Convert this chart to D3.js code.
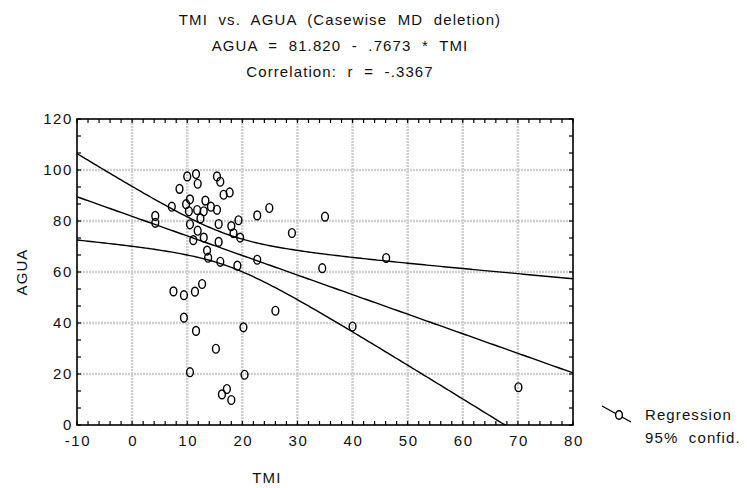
<!DOCTYPE html>
<html>
<head>
<meta charset="utf-8">
<script src="https://cdn.jsdelivr.net/npm/d3@7"></script>
<style>
  body { margin: 0; background: #fff; }
  text { font-family: "Liberation Sans", Arial, sans-serif; fill: #111; font-size: 15px; letter-spacing: 1.1px; }
</style>
</head>
<body>
<div id="chart"></div>
<script>
// values
let tmi = [4.2, 4.2, 7.2, 8.6, 10.0, 11.6, 11.9, 10.5, 9.8, 10.3, 11.8, 12.4, 13.0, 13.3, 14.3, 15.4, 15.4, 16.0, 16.6, 17.7,
  10.5, 11.9, 11.1, 13.0, 13.6, 13.8, 15.7, 15.7, 16.0, 18.0, 18.4, 19.3, 19.6, 19.1, 22.7, 24.9, 22.7, 29.0, 35.0, 34.5,
  7.5, 9.4, 11.4, 12.7, 9.4, 11.6, 20.2, 15.2, 10.5, 20.4, 17.2, 16.3, 18.0, 26.0, 40.0, 46.1, 70.1];
let agua = [82.0, 79.3, 85.6, 92.6, 97.5, 98.4, 94.6, 88.5, 86.6, 83.8, 84.3, 81.0, 83.8, 88.0, 85.6, 84.4, 97.5, 95.4, 90.3, 91.2,
  78.7, 76.2, 72.5, 73.5, 68.4, 65.6, 78.8, 71.8, 64.0, 78.0, 75.2, 80.3, 73.5, 62.5, 82.2, 85.1, 64.8, 75.3, 81.7, 61.5,
  52.4, 50.9, 52.3, 55.3, 42.1, 36.9, 38.3, 29.9, 20.7, 19.7, 14.1, 12.0, 9.8, 44.8, 38.6, 65.5, 14.8];

// from the chart title
let intercept = 81.820;
let slope = -0.7673;
let r = -0.3367;

let xTicks = [-10, 0, 10, 20, 30, 40, 50, 60, 70, 80];
let yTicks = [0, 20, 40, 60, 80, 100, 120];
let titleLines = ['TMI  vs.  AGUA  (Casewise  MD  deletion)', 'AGUA  =  81.820  -  .7673  *  TMI', 'Correlation:  r  =  -.3367'];
let legendLabels = ['Regression', '95%  confid.'];

let width = 747, height = 488;
let margin = {top: 119, right: 174, bottom: 63, left: 77};
let plotW = width - margin.left - margin.right;
let plotH = height - margin.top - margin.bottom;

let svg = d3.select('#chart').append('svg')
  .attr('width', width)
  .attr('height', height);

let x = d3.scaleLinear().domain([-10, 80]).range([margin.left, margin.left + plotW]);
let y = d3.scaleLinear().domain([0, 120]).range([margin.top + plotH, margin.top]);

// titles
svg.selectAll('.title')
  .data(titleLines)
  .enter().append('text')
  .attr('class', 'title')
  .attr('x', 340)
  .attr('y', (d, i) => 25 + i * 26)
  .attr('text-anchor', 'middle')
  .style('white-space', 'pre')
  .text(d => d);

// grid
let grid = svg.append('g')
  .attr('stroke', '#cfcfcf')
  .attr('stroke-width', 2.5)
  .attr('stroke-dasharray', '2,1');
grid.selectAll('.vg')
  .data(xTicks.slice(1, -1))
  .enter().append('line')
  .attr('x1', d => x(d)).attr('x2', d => x(d))
  .attr('y1', y(0)).attr('y2', y(120));
grid.selectAll('.hg')
  .data(yTicks.slice(1, -1))
  .enter().append('line')
  .attr('x1', x(-10)).attr('x2', x(80))
  .attr('y1', d => y(d)).attr('y2', d => y(d));

// minor ticks, inward on all four sides
let xMinor = d3.range(-10, 80.01, 2);
let yMinor = d3.range(0, 120.01, 20 / 3);
let ticks = svg.append('g').attr('stroke', '#000').attr('stroke-width', 1.2);
ticks.selectAll('.xb').data(xMinor).enter().append('line')
  .attr('x1', d => x(d)).attr('x2', d => x(d))
  .attr('y1', y(0)).attr('y2', y(0) - 4);
ticks.selectAll('.xt').data(xMinor).enter().append('line')
  .attr('x1', d => x(d)).attr('x2', d => x(d))
  .attr('y1', y(120)).attr('y2', y(120) + 4);
ticks.selectAll('.yl').data(yMinor).enter().append('line')
  .attr('x1', x(-10)).attr('x2', x(-10) + 4)
  .attr('y1', d => y(d)).attr('y2', d => y(d));
ticks.selectAll('.yr').data(yMinor).enter().append('line')
  .attr('x1', x(80)).attr('x2', x(80) - 4)
  .attr('y1', d => y(d)).attr('y2', d => y(d));

// tick labels
svg.selectAll('.xl').data(xTicks).enter().append('text')
  .attr('x', d => x(d) + 1)
  .attr('y', y(0) + 21)
  .attr('text-anchor', 'middle')
  .style('letter-spacing', '1.6px')
  .text(d => d);
svg.selectAll('.ylab').data(yTicks).enter().append('text')
  .attr('x', x(-10) - 4)
  .attr('y', d => y(d) + 5)
  .attr('text-anchor', 'end')
  .style('letter-spacing', '1.6px')
  .text(d => d);

// axis titles
svg.append('text')
  .attr('x', x(25) - 3)
  .attr('y', 483)
  .attr('text-anchor', 'middle')
  .text('TMI');
svg.append('text')
  .attr('transform', 'translate(' + 27 + ',' + y(60) + ') rotate(-90)')
  .attr('text-anchor', 'middle')
  .text('AGUA');

// regression line and 95% confidence band, from the stated fit and r
let n = tmi.length;
let xbar = d3.mean(tmi);
let sxx = d3.sum(tmi, v => (v - xbar) * (v - xbar));
let k = Math.abs(slope) * Math.sqrt(1 - r * r) / (Math.abs(r) * Math.sqrt(n - 2)); // s / sqrt(Sxx)
let tcrit = 2.004;
let xs = d3.range(-10, 80.01, 0.5);
let fit = v => intercept + slope * v;
let half = v => tcrit * k * Math.sqrt(sxx / n + (v - xbar) * (v - xbar));

svg.append('clipPath').attr('id', 'clip')
  .append('rect')
  .attr('x', x(-10)).attr('y', y(120))
  .attr('width', plotW).attr('height', plotH);

let line = d3.line().x(d => x(d[0])).y(d => y(d[1]));
let curves = [
  xs.map(v => [v, fit(v)]),
  xs.map(v => [v, fit(v) + half(v)]),
  xs.map(v => [v, fit(v) - half(v)])
];
svg.append('g').attr('clip-path', 'url(#clip)')
  .selectAll('path').data(curves).enter().append('path')
  .attr('d', line)
  .attr('fill', 'none')
  .attr('stroke', '#000')
  .attr('stroke-width', 1.4);

// points
svg.append('g').selectAll('ellipse')
  .data(tmi)
  .enter().append('ellipse')
  .attr('cx', d => x(d))
  .attr('cy', (d, i) => y(agua[i]))
  .attr('rx', 3.4)
  .attr('ry', 4.4)
  .attr('fill', 'none')
  .attr('stroke', '#000')
  .attr('stroke-width', 1.4);

// frame
svg.append('rect')
  .attr('x', x(-10)).attr('y', y(120))
  .attr('width', plotW).attr('height', plotH)
  .attr('fill', 'none')
  .attr('stroke', '#000')
  .attr('stroke-width', 1.6);

// legend
let lg = svg.append('g');
lg.append('line')
  .attr('x1', 602).attr('y1', 406).attr('x2', 631).attr('y2', 422)
  .attr('stroke', '#000').attr('stroke-width', 1.4);
lg.append('ellipse')
  .attr('cx', 619).attr('cy', 415).attr('rx', 3.4).attr('ry', 4.2)
  .attr('fill', '#fff').attr('stroke', '#000').attr('stroke-width', 1.4);
lg.selectAll('text').data(legendLabels).enter().append('text')
  .attr('x', 645)
  .attr('y', (d, i) => 420 + i * 23)
  .style('white-space', 'pre')
  .text(d => d);
</script>
</body>
</html>
